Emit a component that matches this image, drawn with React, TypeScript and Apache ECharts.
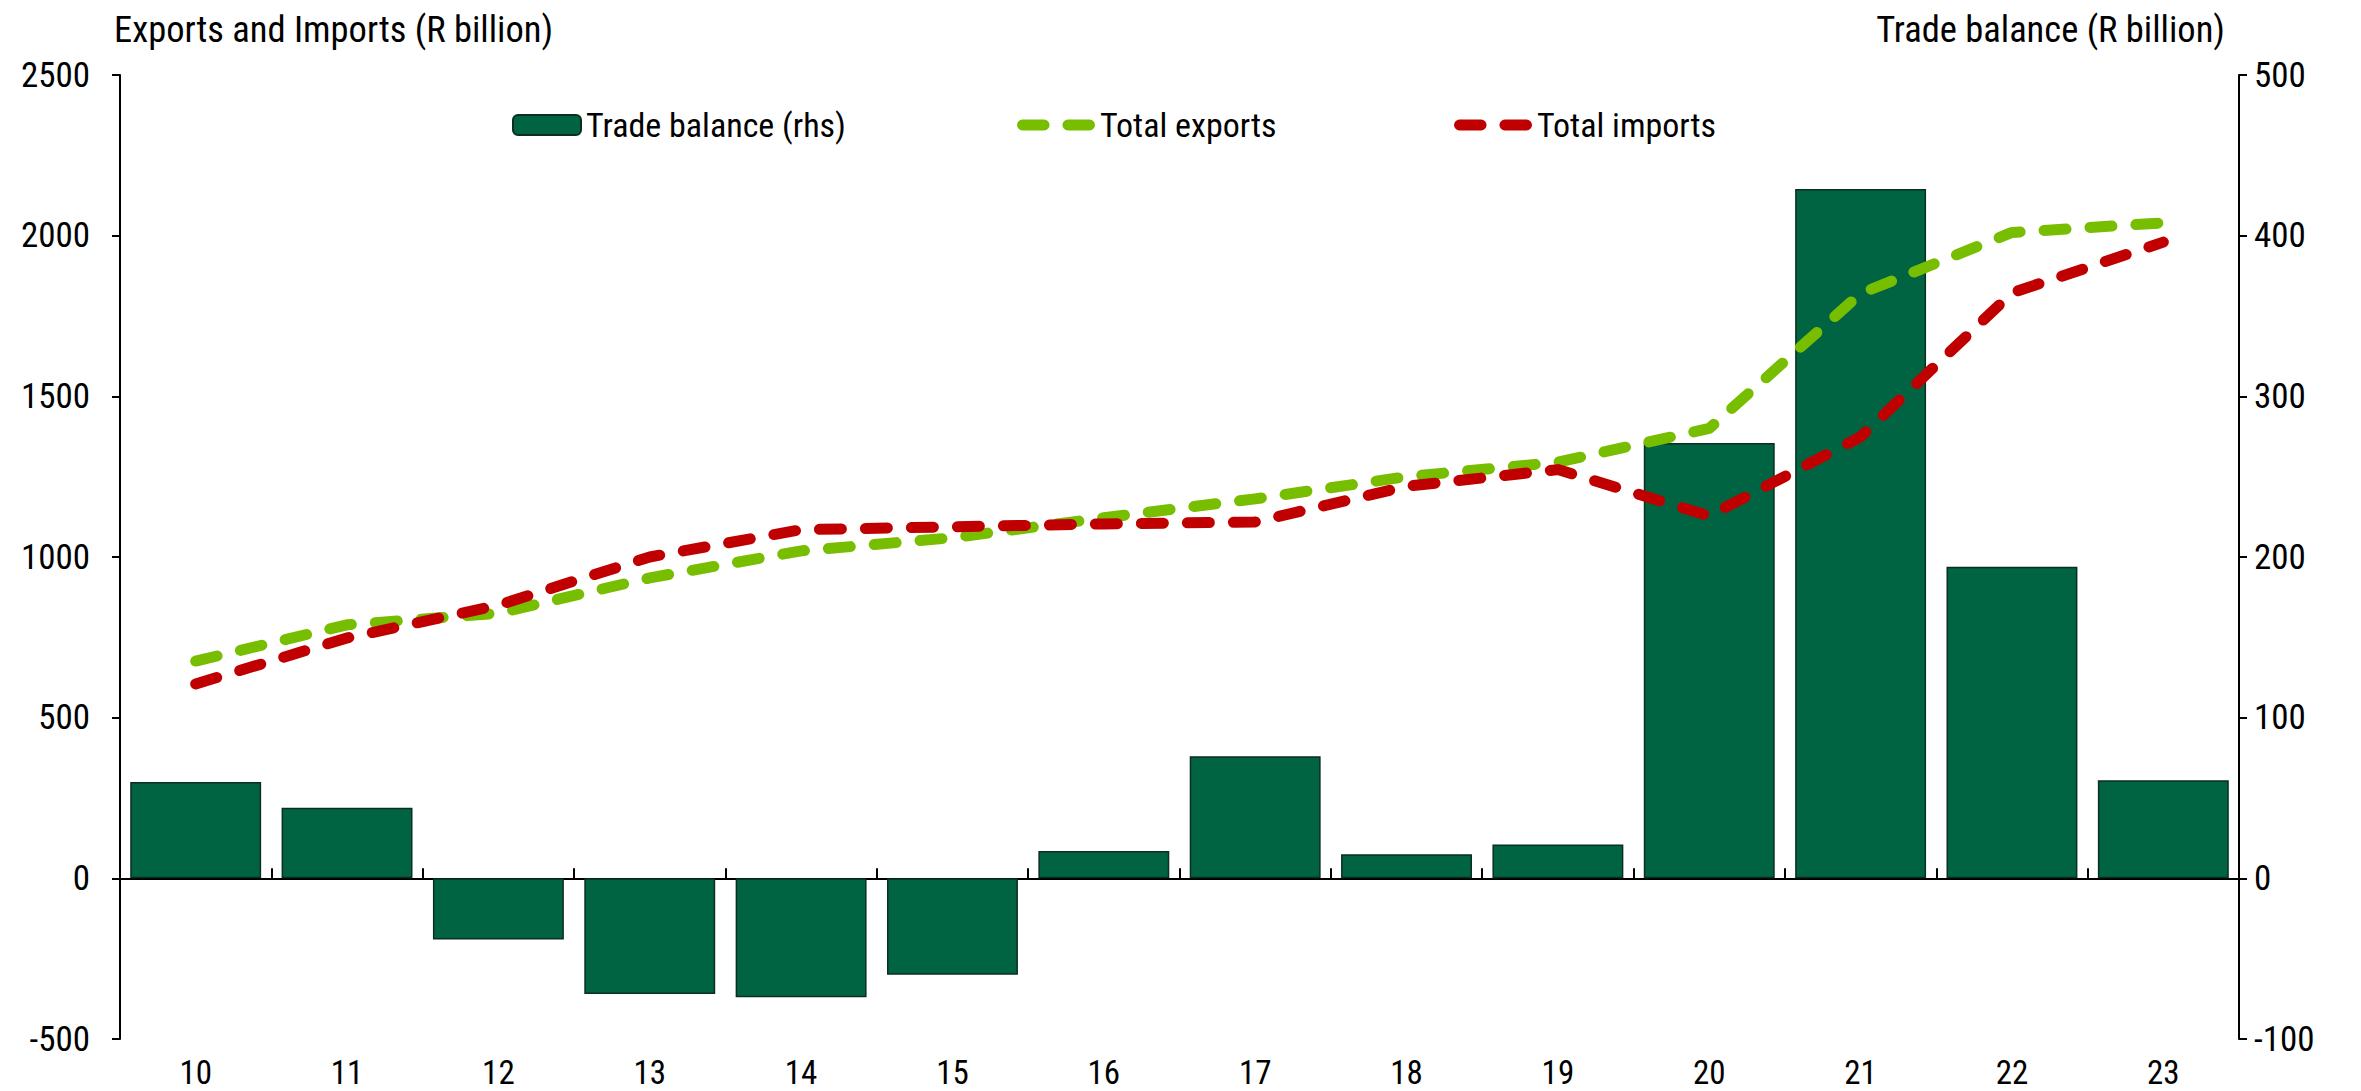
import React, { useEffect, useRef } from "react";
import * as echarts from "echarts";

const years = ["10", "11", "12", "13", "14", "15", "16", "17", "18", "19", "20", "21", "22", "23"];
const tradeBalance = [60, 44, -38, -72, -74, -60, 17, 76, 15, 21, 271, 429, 194, 61];
const totalExports = [676, 789, 825, 935, 1019, 1060, 1122, 1181, 1250, 1295, 1400, 1820, 2010, 2040];
const totalImports = [605, 748, 850, 1000, 1085, 1094, 1103, 1109, 1220, 1272, 1128, 1374, 1822, 1980];

const FONT = "'Liberation Sans Narrow', 'Roboto Condensed', 'Arial Narrow', Roboto, sans-serif";
const TITLE_FS = 36.5;
const LEGEND_FS = 34;
const TICK_FS = 35;
const XTICK_FS = 33;

const PILLS =
  "path://M5.5,0H27.5A5.5,5.5,0,0,1,27.5,11H5.5A5.5,5.5,0,0,1,5.5,0ZM51.5,0H73.5A5.5,5.5,0,0,1,73.5,11H51.5A5.5,5.5,0,0,1,51.5,0Z";

export default function App() {
  const ref = useRef<HTMLDivElement>(null);
  useEffect(() => {
    if (!ref.current) return;
    const chart = echarts.init(ref.current, undefined, { renderer: "svg" });
    const lineDash = { type: [22, 24] as any, cap: "round" as const, join: "round" as const, width: 11 };
    const titleStyle = { fontFamily: FONT, fontSize: TITLE_FS, fontWeight: "normal" as const, color: "#000", lineHeight: 44 };
    const legendText = { fontFamily: FONT, fontSize: LEGEND_FS, color: "#000", lineHeight: 40 };
    chart.setOption({
      animation: false,
      backgroundColor: "#ffffff",
      textStyle: { fontFamily: FONT, color: "#000" },
      title: [
        { text: "Exports and Imports (R billion)", left: 109, top: 2, textStyle: titleStyle },
        { text: "Trade balance (R billion)", right: 131, top: 2, textStyle: titleStyle },
      ],
      legend: [
        { data: ["Trade balance (rhs)"], left: 507, top: 100, itemWidth: 68, itemHeight: 20, itemGap: 0, textStyle: legendText },
        { data: [{ name: "Total exports", icon: PILLS }], left: 1012, top: 100, itemWidth: 78, itemHeight: 11, textStyle: legendText },
        { data: [{ name: "Total imports", icon: PILLS }], left: 1449, top: 100, itemWidth: 78, itemHeight: 11, textStyle: legendText },
      ],
      grid: { left: 120, right: 122, top: 75, bottom: 52, containLabel: false },
      xAxis: [
        {
          type: "category",
          data: years,
          axisLine: { show: true, onZero: true, lineStyle: { color: "#000", width: 2 } },
          axisTick: { show: true, inside: true, length: 10, lineStyle: { color: "#000", width: 2 } },
          axisLabel: { show: false },
          splitLine: { show: false },
        },
        {
          type: "category",
          data: years,
          position: "bottom",
          axisLine: { show: false, onZero: false },
          axisTick: { show: false },
          axisLabel: { show: true, fontFamily: FONT, fontSize: XTICK_FS, color: "#000", margin: 17, lineHeight: 33 },
          splitLine: { show: false },
        },
      ],
      yAxis: [
        {
          type: "value",
          min: -500,
          max: 2500,
          interval: 500,
          position: "left",
          axisLine: { show: true, lineStyle: { color: "#000", width: 2 } },
          axisTick: { show: true, length: 8, lineStyle: { color: "#000", width: 2 } },
          axisLabel: { fontFamily: FONT, fontSize: TICK_FS, color: "#000", margin: 30, formatter: (v: number) => String(v) },
          splitLine: { show: false },
        },
        {
          type: "value",
          min: -100,
          max: 500,
          interval: 100,
          position: "right",
          axisLine: { show: true, lineStyle: { color: "#000", width: 2 } },
          axisTick: { show: true, length: 8, lineStyle: { color: "#000", width: 2 } },
          axisLabel: { fontFamily: FONT, fontSize: TICK_FS, color: "#000", margin: 15, formatter: (v: number) => String(v) },
          splitLine: { show: false },
        },
      ],
      series: [
        {
          name: "Trade balance (rhs)",
          type: "bar",
          xAxisIndex: 0,
          yAxisIndex: 1,
          data: tradeBalance,
          barCategoryGap: "13.5%",
          itemStyle: { color: "#006442", borderColor: "#0b2e1f", borderWidth: 1.5 },
          z: 2,
        },
        {
          name: "Total exports",
          type: "line",
          xAxisIndex: 0,
          yAxisIndex: 0,
          data: totalExports,
          showSymbol: false,
          symbol: "none",
          color: "#78BE00",
          itemStyle: { color: "#78BE00" },
          lineStyle: { ...lineDash, color: "#78BE00" },
          z: 3,
        },
        {
          name: "Total imports",
          type: "line",
          xAxisIndex: 0,
          yAxisIndex: 0,
          data: totalImports,
          showSymbol: false,
          symbol: "none",
          color: "#C00000",
          itemStyle: { color: "#C00000" },
          lineStyle: { ...lineDash, color: "#C00000" },
          z: 4,
        },
      ],
    });
    return () => chart.dispose();
  }, []);
  return <div ref={ref} style={{ position: "fixed", left: 0, top: 0, width: 2361, height: 1091 }} />;
}
